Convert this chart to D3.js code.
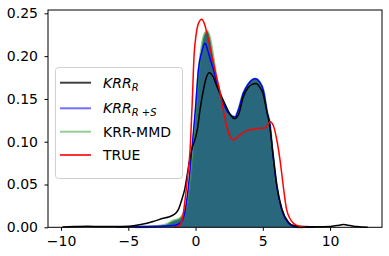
<!DOCTYPE html>
<html>
<head>
<meta charset="utf-8">
<script src="https://cdn.jsdelivr.net/npm/d3@7"></script>
<style>
  body { margin: 0; background: #fff; }
  svg { display: block; font-family: "DejaVu Sans", sans-serif; }
</style>
</head>
<body>
<svg id="chart" width="389" height="256"></svg>
<script>
// values (x, density)
var krrRX = [-9.9, -9, -8, -7, -6, -5, -4.2, -3.6, -3, -2.4, -2, -1.65, -1.3, -1.03, -0.8, -0.55, -0.3, 0, 0.15, 0.33, 0.58, 0.8, 1.03, 1.3, 1.55, 1.8, 2.1, 2.5, 2.88, 3.2, 3.55, 3.9, 4.2, 4.5, 4.8, 5.0, 5.3, 5.5, 5.75, 6.04, 6.4, 6.9, 7.3, 8, 9, 10, 10.5, 11, 11.5, 12, 12.8];
var krrRY = [0.0003, 0.0008, 0.0012, 0.0008, 0.0008, 0.0012, 0.003, 0.0047, 0.0075, 0.0105, 0.012, 0.0144, 0.02, 0.032, 0.045, 0.068, 0.09, 0.105, 0.116, 0.137, 0.160, 0.175, 0.1806, 0.176, 0.166, 0.157, 0.147, 0.134, 0.127, 0.132, 0.1526, 0.163, 0.167, 0.168, 0.163, 0.157, 0.135, 0.12, 0.086, 0.049, 0.022, 0.006, 0.002, 0.0008, 0.0005, 0.001, 0.002, 0.0032, 0.002, 0.0008, 0];

var krrRSX = [-5.9, -5, -4, -3, -2, -1.5, -1.03, -0.8, -0.65, -0.45, -0.28, 0, 0.21, 0.46, 0.71, 0.9, 1.1, 1.32, 1.55, 1.77, 2.0, 2.4, 2.94, 3.18, 3.55, 3.9, 4.45, 4.75, 5.04, 5.34, 5.49, 5.74, 6.04, 6.41, 6.9, 7.27, 8, 8.8];
var krrRSY = [0.0003, 0.0005, 0.0008, 0.0012, 0.0018, 0.0025, 0.0065, 0.018, 0.032, 0.06, 0.09, 0.14, 0.184, 0.205, 0.215, 0.207, 0.196, 0.185, 0.170, 0.158, 0.148, 0.134, 0.129, 0.137, 0.1565, 0.167, 0.1736, 0.170, 0.160, 0.133, 0.124, 0.086, 0.047, 0.020, 0.0047, 0.001, 0.0003, 0];

var mmdX = [-4.5, -3, -2.2, -1.65, -1.2, -0.9, -0.6, -0.4, -0.2, 0, 0.2, 0.45, 0.65, 0.86, 1.05, 1.3, 1.55, 1.8, 2.0, 2.4, 2.94, 3.18, 3.55, 3.9, 4.45, 4.75, 5.04, 5.34, 5.49, 5.74, 6.04, 6.41, 6.9, 7.27, 8];
var mmdY = [0.0003, 0.001, 0.003, 0.0077, 0.010, 0.016, 0.03, 0.055, 0.09, 0.13, 0.175, 0.21, 0.225, 0.229, 0.222, 0.2, 0.175, 0.158, 0.148, 0.134, 0.129, 0.137, 0.157, 0.167, 0.1735, 0.170, 0.160, 0.133, 0.124, 0.086, 0.047, 0.020, 0.0047, 0.001, 0];

var trueX = [-1.6, -1.4, -1.15, -0.95, -0.78, -0.6, -0.41, -0.25, -0.11, 0.05, 0.21, 0.46, 0.65, 0.83, 1.2, 1.58, 1.82, 2.05, 2.32, 2.57, 2.81, 3.31, 3.81, 4.3, 4.8, 5.17, 5.54, 5.8, 6.04, 6.28, 6.53, 6.78, 7.27, 7.77, 8.2];
var trueY = [0, 0.0005, 0.003, 0.012, 0.032, 0.058, 0.09, 0.145, 0.201, 0.226, 0.238, 0.243, 0.238, 0.228, 0.201, 0.174, 0.158, 0.138, 0.1175, 0.106, 0.102, 0.108, 0.113, 0.1145, 0.1157, 0.116, 0.1234, 0.118, 0.102, 0.0786, 0.047, 0.020, 0.0047, 0.001, 0];

var xTicks = [-10, -5, 0, 5, 10];
var yTicks = [0, 0.05, 0.10, 0.15, 0.20, 0.25];

var series = [
  { key: "krrR", xs: krrRX, ys: krrRY, color: "#000000", legend: "#404040", width: 1.5, opacity: 1 },
  { key: "krrRS", xs: krrRSX, ys: krrRSY, color: "#0000ff", legend: "#7070ff", width: 1.5, opacity: 1 },
  { key: "mmd", xs: mmdX, ys: mmdY, color: "#2e9a2e", legend: "#96cc96", width: 2.5, opacity: 0.55 },
  { key: "true", xs: trueX, ys: trueY, color: "#ff0000", legend: "#ff3333", width: 1.5, opacity: 1 }
];

var svg = d3.select("#chart");
var plotL = 48, plotR = 382, plotT = 10, plotB = 227.3;

var x = d3.scaleLinear().domain([-10.97, 13.86]).range([plotL, plotR]);
var y = d3.scaleLinear().domain([0, 0.2539]).range([plotB, plotT]);

var toPts = function (s) {
  return s.xs.map(function (v, i) { return [v, s.ys[i]]; });
};

var line = d3.line()
  .x(function (d) { return x(d[0]); })
  .y(function (d) { return y(d[1]); })
  .curve(d3.curveMonotoneX);

var area = d3.area()
  .x(function (d) { return x(d[0]); })
  .y0(y(0))
  .y1(function (d) { return y(d[1]); })
  .curve(d3.curveMonotoneX);

var plot = svg.append("g");

// shaded estimate
plot.append("path")
  .attr("d", area(toPts(series[2])))
  .attr("fill", "#29677d");

// draw order: green, blue, black, red
[2, 1, 0, 3].forEach(function (i) {
  var s = series[i];
  plot.append("path")
    .attr("d", line(toPts(s)))
    .attr("fill", "none")
    .attr("stroke", s.color)
    .attr("stroke-opacity", s.opacity)
    .attr("stroke-width", s.width)
    .attr("stroke-linejoin", "round");
});

// axes
var xAxis = d3.axisBottom(x).tickValues(xTicks).tickSize(3.5).tickPadding(5.5)
  .tickFormat(function (d) { return d < 0 ? "\u2212" + Math.abs(d) : d; });
var yAxis = d3.axisLeft(y).tickValues(yTicks).tickSize(3.5).tickPadding(6.5)
  .tickFormat(d3.format(".2f"));

var gx = svg.append("g").attr("transform", "translate(0," + plotB + ")").call(xAxis);
var gy = svg.append("g").attr("transform", "translate(" + plotL + ",0)").call(yAxis);
[gx, gy].forEach(function (g) {
  g.select(".domain").remove();
  g.selectAll("line").attr("stroke", "#000").attr("stroke-width", 1);
  g.selectAll("text").attr("fill", "#000").style("font-size", "14px")
    .style("font-family", "DejaVu Sans");
});

svg.append("rect")
  .attr("x", plotL).attr("y", plotT)
  .attr("width", plotR - plotL).attr("height", plotB - plotT)
  .attr("fill", "none").attr("stroke", "#000").attr("stroke-width", 1);

// legend
var lg = svg.append("g");
lg.append("rect")
  .attr("x", 55.5).attr("y", 67.5).attr("width", 127).attr("height", 111)
  .attr("rx", 3).attr("fill", "#fff").attr("fill-opacity", 0.8)
  .attr("stroke", "#d0d0d0").attr("stroke-width", 1);

var rowY = [82.7, 108.3, 131.7, 155];
series.forEach(function (s, i) {
  lg.append("line")
    .attr("x1", 60).attr("x2", 91)
    .attr("y1", rowY[i]).attr("y2", rowY[i])
    .attr("stroke", s.legend).attr("stroke-width", 2);
});

var txt = function (i) {
  return lg.append("text").attr("x", 103).attr("y", rowY[i] + 5)
    .style("font-size", "14px").style("font-family", "DejaVu Sans");
};
var t0 = txt(0);
t0.append("tspan").style("font-style", "italic").text("KRR");
t0.append("tspan").style("font-style", "italic").style("font-size", "10px").attr("dy", 3).text("R");

var t1 = txt(1);
t1.append("tspan").style("font-style", "italic").text("KRR");
t1.append("tspan").style("font-style", "italic").style("font-size", "10px").attr("dy", 3).text("R ");
t1.append("tspan").style("font-size", "10px").text("+");
t1.append("tspan").style("font-style", "italic").style("font-size", "10px").text("S");

txt(2).text("KRR-MMD");
txt(3).text("TRUE");
</script>
</body>
</html>
